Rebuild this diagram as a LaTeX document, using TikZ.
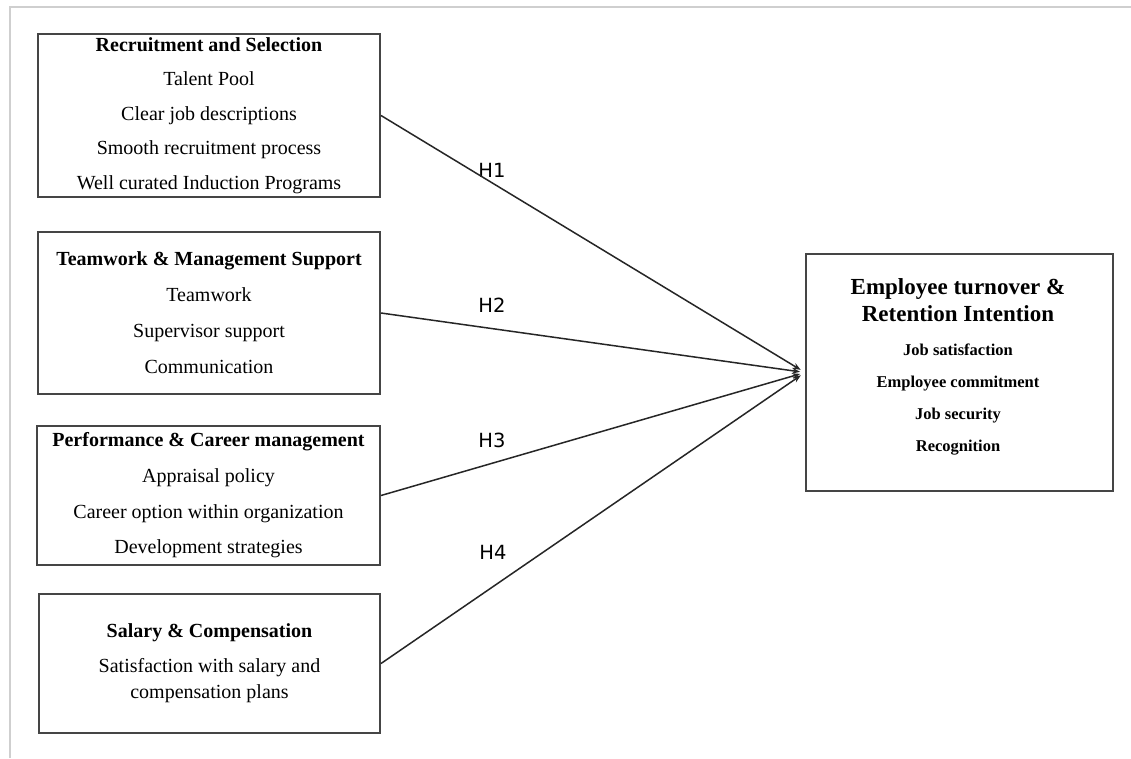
\documentclass[tikz,border=0pt]{standalone}
\usepackage{fontspec}
\setmainfont{Liberation Serif}
\newfontfamily\hfont{DejaVu Sans}
\usetikzlibrary{arrows.meta}
\definecolor{framegray}{HTML}{CFCFCF}
\definecolor{boxline}{HTML}{454545}
\definecolor{conn}{HTML}{262626}
\tikzset{
  leftbox/.style={draw=boxline, line width=2pt, inner sep=0pt, align=center, fill=white},
  rightbox/.style={draw=boxline, line width=2pt, inner sep=0pt, fill=white},
  txt/.style={inner sep=0pt, align=center},
  hlab/.style={inner sep=0pt, font=\hfont\fontsize{19.5}{22}\selectfont, text=black},
  conline/.style={draw=conn, line width=1.5pt, -{Stealth[length=8pt,width=6pt]}, shorten >=5pt}
}
\begin{document}
\begin{tikzpicture}[x=1pt,y=-1pt]
\useasboundingbox (0,0) rectangle (1131,758);
\fill[white] (0,0) rectangle (1131,758);
% light frame
\draw[framegray, line width=2pt] (10,758) -- (10,7) -- (1131,7);

% left boxes
\node[leftbox, minimum width=342pt, minimum height=163pt, font=\fontsize{20}{34.5}\selectfont] (b1) at (209,115.5)
  {\textbf{Recruitment and Selection}\\ Talent Pool\\ Clear job descriptions\\ Smooth recruitment process\\ Well curated Induction Programs};
\node[leftbox, minimum width=342pt, minimum height=162pt, font=\fontsize{20}{36}\selectfont] (b2) at (209,313)
  {\textbf{Teamwork \& Management Support}\\ Teamwork\\ Supervisor support\\ Communication};
\node[leftbox, minimum width=343pt, minimum height=139pt, font=\fontsize{20}{35.7}\selectfont] (b3) at (208.5,495.5)
  {\textbf{Performance \& Career management}\\ Appraisal policy\\ Career option within organization\\ Development strategies};
\node[leftbox, minimum width=341pt, minimum height=139pt, font=\fontsize{20}{26}\selectfont] (b4) at (209.5,663.5)
  {\textbf{Salary \& Compensation}\\[9pt] Satisfaction with salary and\\ compensation plans};

% right box
\node[rightbox, minimum width=307pt, minimum height=237pt] (out) at (959.5,372.5) {};
\node[txt, font=\fontsize{23}{27}\selectfont\bfseries] (outtitle) at (958,300.5)
  {Employee turnover \&\\ Retention Intention};
\node[txt, font=\fontsize{16.5}{32.3}\selectfont\bfseries] (outitems) at (958,399.5)
  {Job satisfaction\\ Employee commitment\\ Job security\\ Recognition};

% hypothesis labels
\node[hlab] (h1) at (492,170) {H1};
\node[hlab] (h2) at (492,305) {H2};
\node[hlab] (h3) at (492,440) {H3};
\node[hlab] (h4) at (493,552) {H4};

% connectors
\draw[conline] (b1.east) -- (out.west);
\draw[conline] (b2.east) -- (out.west);
\draw[conline] (b3.east) -- (out.west);
\draw[conline] (b4.east) -- (out.west);
\end{tikzpicture}
\end{document}
